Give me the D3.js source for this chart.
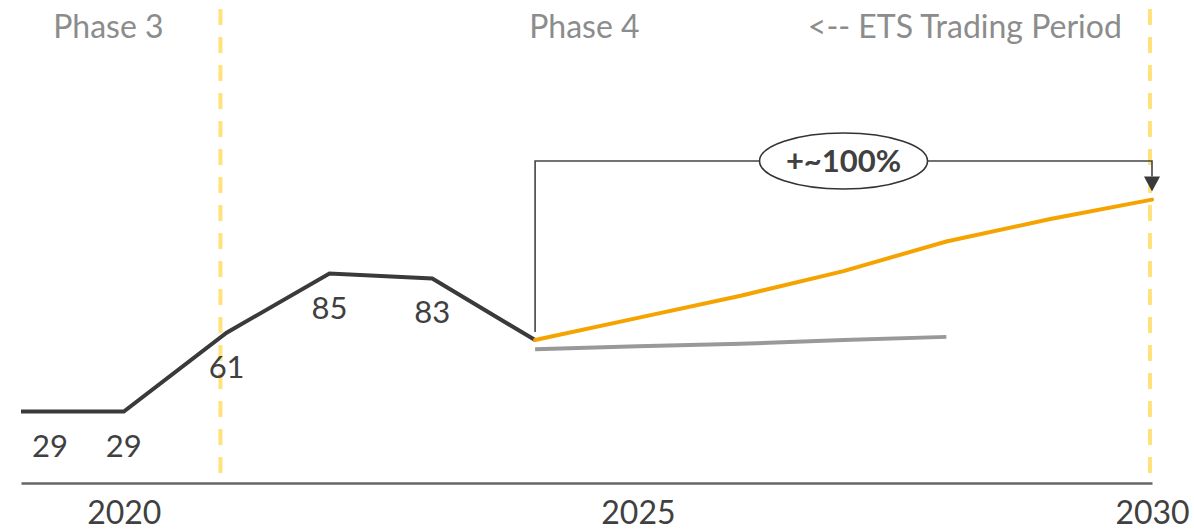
<!DOCTYPE html>
<html>
<head>
<meta charset="utf-8">
<script src="https://cdn.jsdelivr.net/npm/d3@7"></script>
<style>
  html, body { margin: 0; padding: 0; background: #fff; }
  svg { display: block; font-family: Lato, "Open Sans", sans-serif; }
</style>
</head>
<body>
<svg id="chart" width="1194" height="530"></svg>
<script>
// EU ETS allowance price, EUR/t
const histYears = [2019, 2020, 2021, 2022, 2023, 2024];
const histValues = [29, 29, 61, 85, 83, 58];
const histLabels = ["29", "29", "61", "85", "83", null];

const forecastYears = [2024, 2025, 2026, 2027, 2028, 2029, 2030];
const forecastValues = [58, 67, 76, 86, 98, 107, 115];

const altYears = [2024, 2025, 2026, 2027, 2028];
const altValues = [54.3, 55.5, 56.5, 58, 59.3];

const tickYears = [2020, 2025, 2030];
const phaseBoundaries = [2020.94, 2029.98];
const phaseLabels = [
  { year: 2019.85, text: "Phase 3" },
  { year: 2024.48, text: "Phase 4" },
  { year: 2028.18, text: "<-- ETS Trading Period" }
];
const changeLabel = "+~100%";

const svg = d3.select("#chart");

const x = d3.scaleLinear().domain([2019, 2030]).range([21, 1152]);
const y = d3.scaleLinear().domain([0, 120]).range([483, 187.3]);

// Phase boundaries
svg.selectAll("line.phase")
  .data(phaseBoundaries)
  .join("line")
  .attr("class", "phase")
  .attr("x1", d => x(d)).attr("x2", d => x(d))
  .attr("y1", 9).attr("y2", 477)
  .attr("stroke", "#ffe27a")
  .attr("stroke-width", 4)
  .attr("stroke-dasharray", "16,12");

// Phase titles
svg.selectAll("text.phase")
  .data(phaseLabels)
  .join("text")
  .attr("class", "phase")
  .attr("x", d => x(d.year))
  .attr("y", 38)
  .attr("text-anchor", "middle")
  .attr("font-size", 32)
  .attr("fill", "#8c8c8c")
  .text(d => d.text);

// X axis
const xAxis = d3.axisBottom(x)
  .tickValues(tickYears)
  .tickFormat(d3.format("d"))
  .tickSize(0)
  .tickPadding(18);
const axisG = svg.append("g")
  .attr("transform", `translate(0,${y(0)})`)
  .call(xAxis);
axisG.select(".domain").attr("stroke", "#666").attr("stroke-width", 2.5);
axisG.selectAll("text")
  .attr("font-family", "Lato, sans-serif")
  .attr("font-size", 32)
  .attr("fill", "#404040");

const line = d3.line().x(d => x(d[0])).y(d => y(d[1]));

// Alternative scenario
svg.append("path")
  .datum(d3.zip(altYears, altValues))
  .attr("d", line)
  .attr("fill", "none")
  .attr("stroke", "#999")
  .attr("stroke-width", 4);

// Historical prices
svg.append("path")
  .datum(d3.zip(histYears, histValues))
  .attr("d", line)
  .attr("fill", "none")
  .attr("stroke", "#3a3a3a")
  .attr("stroke-width", 4)
  .attr("stroke-linejoin", "miter");

// Forecast
svg.append("path")
  .datum(d3.zip(forecastYears, forecastValues))
  .attr("d", line)
  .attr("fill", "none")
  .attr("stroke", "#f5a300")
  .attr("stroke-width", 4)
  .attr("stroke-linecap", "round");

// Value labels under historical points
const minLabelX = x(2019) + 29;
svg.selectAll("text.val")
  .data(d3.zip(histYears, histValues, histLabels).filter(d => d[2] !== null))
  .join("text")
  .attr("class", "val")
  .attr("x", d => Math.max(x(d[0]), minLabelX))
  .attr("y", d => y(d[1]) + 45)
  .attr("text-anchor", "middle")
  .attr("font-size", 31)
  .attr("fill", "#404040")
  .text(d => d[2]);

// Change bracket from 2024 to 2030
const x0 = x(forecastYears[0]);
const x1 = x(forecastYears[forecastYears.length - 1]);
const yStart = y(forecastValues[0]) - 8;
const yEnd = y(forecastValues[forecastValues.length - 1]) - 8;
const yTop = 161;
const arrowH = 15;

svg.append("path")
  .attr("d", `M${x0},${yStart}V${yTop}H${x1}V${yEnd - arrowH}`)
  .attr("fill", "none")
  .attr("stroke", "#444")
  .attr("stroke-width", 1.6);

svg.append("path")
  .attr("d", `M${x1 - 8},${yEnd - arrowH}L${x1 + 8},${yEnd - arrowH}L${x1},${yEnd}Z`)
  .attr("fill", "#3a3a3a");

const cx = (x0 + x1) / 2;
svg.append("ellipse")
  .attr("cx", cx).attr("cy", yTop)
  .attr("rx", 84).attr("ry", 28)
  .attr("fill", "#fff")
  .attr("stroke", "#333")
  .attr("stroke-width", 1.6);

svg.append("text")
  .attr("x", cx).attr("y", yTop + 11)
  .attr("text-anchor", "middle")
  .attr("font-size", 31)
  .attr("font-weight", "bold")
  .attr("fill", "#404040")
  .text(changeLabel);
</script>
</body>
</html>
